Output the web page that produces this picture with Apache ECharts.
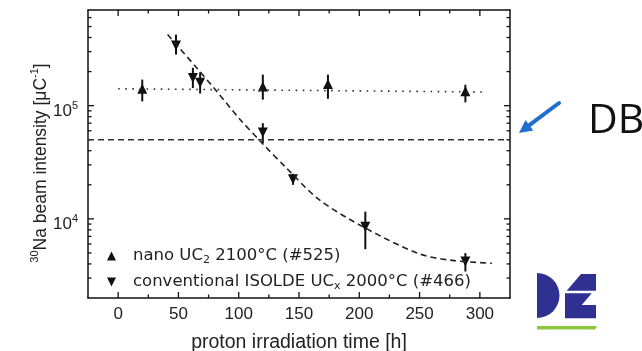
<!DOCTYPE html>
<html><head><meta charset="utf-8">
<script src="https://cdn.jsdelivr.net/npm/echarts@6/dist/echarts.min.js"></script>
<style>html,body{margin:0;padding:0;background:#fff}#c{width:642px;height:351px}</style>
</head><body><div id="c"></div>
<script>
// ---- data ----
const xMin = -25, xMax = 325, yMin = 2000, yMax = 700000;
const nanoName = 'nano UC2 2100°C (#525)';
const convName = 'conventional ISOLDE UCx 2000°C (#466)';
const nanoX  = [20, 120, 174, 288];
const nanoY  = [141000, 148000, 155000, 134000];
const nanoLo = [109000, 113000, 115000, 107000];
const nanoHi = [170000, 188000, 188000, 153000];
const convX  = [48, 62, 68, 120, 145, 205, 288];
const convY  = [340000, 176000, 159000, 58000, 22400, 8500, 4200];
const convLo = [283000, 143000, 128000, 46800, 20000, 5400, 3430];
const convHi = [424000, 216000, 197000, 70000, 25000, 11600, 4980];
const nanoFitX = [0, 305];
const nanoFitY = [141000, 132000];
const convFitX = [41, 64, 80, 100, 120, 139, 167, 205, 250, 277, 310];
const convFitY = [425000, 223000, 141000, 78000, 46000, 28500, 14700, 8300, 4900, 4300, 4050];
const dbLevel = 50000;
const xMajorTicks = [0, 50, 100, 150, 200, 250, 300];
const xMinorTicks = [25, 75, 125, 175, 225, 275];
const yMajorTicks = [10000, 100000];
const yMinorTicks = [3000, 4000, 5000, 6000, 7000, 8000, 9000,
                     20000, 30000, 40000, 50000, 60000, 70000, 80000, 90000,
                     200000, 300000, 400000, 500000, 600000];
const xTickLabels = ['0', '50', '100', '150', '200', '250', '300'];

const legendText = {};
legendText[nanoName] = 'nano UC{sub|2} 2100°C (#525)';
legendText[convName] = 'conventional ISOLDE UC{sub|x} 2000°C (#466)';

const INK = '#111';
const chart = echarts.init(document.getElementById('c'));

function xTickRender(len) {
  return function (params, api) {
    const cs = params.coordSys;
    const px = api.coord([api.value(0), api.value(1)])[0];
    const st = { stroke: INK, lineWidth: 1.3 };
    return { type: 'group', children: [
      { type: 'line', shape: { x1: px, y1: cs.y + cs.height, x2: px, y2: cs.y + cs.height - len }, style: st },
      { type: 'line', shape: { x1: px, y1: cs.y, x2: px, y2: cs.y + len }, style: st }
    ]};
  };
}
function yTickRender(len) {
  return function (params, api) {
    const cs = params.coordSys;
    const py = api.coord([api.value(0), api.value(1)])[1];
    const st = { stroke: INK, lineWidth: 1.3 };
    return { type: 'group', children: [
      { type: 'line', shape: { x1: cs.x, y1: py, x2: cs.x + len, y2: py }, style: st },
      { type: 'line', shape: { x1: cs.x + cs.width, y1: py, x2: cs.x + cs.width - len, y2: py }, style: st }
    ]};
  };
}
function errRender(params, api) {
  const p1 = api.coord([api.value(0), api.value(1)]);
  const p2 = api.coord([api.value(0), api.value(2)]);
  return { type: 'line', shape: { x1: p1[0], y1: p1[1], x2: p2[0], y2: p2[1] },
           style: { stroke: INK, lineWidth: 2 } };
}

const axisFont = 'Liberation Sans, Arial, sans-serif';

chart.setOption({
  animation: false,
  backgroundColor: '#fff',
  grid: { left: 88, right: 132, top: 10, bottom: 53, outerBoundsMode: 'none', containLabel: false },
  legend: {
    orient: 'vertical', left: 102, top: 241, itemGap: 6,
    itemWidth: 9, itemHeight: 9,
    data: [
      { name: nanoName, icon: 'triangle' },
      { name: convName, icon: 'path://M0,0L10,0L5,10Z' }
    ],
    formatter: function (n) { return legendText[n]; },
    itemStyle: { opacity: 1 },
    textStyle: {
      fontFamily: 'DejaVu Sans', fontSize: 16.5, color: '#222', lineHeight: 20,
      padding: [0, 0, 0, 12],
      rich: { sub: { fontFamily: 'DejaVu Sans', fontSize: 11, color: '#222', verticalAlign: 'bottom', lineHeight: 10 } }
    }
  },
  xAxis: [{
    type: 'value', min: xMin, max: xMax, interval: 25, position: 'bottom',
    axisLine: { show: true, onZero: false, lineStyle: { color: INK, width: 1.5 } },
    axisTick: { show: false }, splitLine: { show: false },
    axisLabel: {
      margin: 8, fontFamily: axisFont, fontSize: 17, color: '#222',
      formatter: function (v) { const i = xMajorTicks.indexOf(v); return i >= 0 ? xTickLabels[i] : ''; }
    },
    name: 'proton irradiation time [h]', nameLocation: 'middle', nameGap: 35, nameMoveOverlap: false,
    nameTextStyle: { fontFamily: axisFont, fontSize: 19.5, color: '#222', lineHeight: 20 }
  }, {
    type: 'value', min: xMin, max: xMax, interval: 25, position: 'top',
    axisLine: { show: true, onZero: false, lineStyle: { color: INK, width: 1.5 } },
    axisTick: { show: false }, axisLabel: { show: false }, splitLine: { show: false }
  }],
  yAxis: [{
    type: 'log', logBase: 10, min: yMin, max: yMax, position: 'left',
    axisLine: { show: true, onZero: false, lineStyle: { color: INK, width: 1.5 } },
    axisTick: { show: false }, splitLine: { show: false },
    axisLabel: {
      margin: 10, fontFamily: axisFont, fontSize: 17, color: '#222', lineHeight: 22,
      padding: [11, 0, 0, 0],
      formatter: function (v) {
        const e = Math.round(Math.log10(v));
        return Math.abs(v - Math.pow(10, e)) < 1e-6 * v ? '10{sup|' + e + '}' : '';
      },
      rich: { sup: { fontFamily: axisFont, fontSize: 11, color: '#222', verticalAlign: 'top', lineHeight: 11 } }
    },
    name: '{sup|30}Na beam intensity [μC{sup|-1}]{gap| }', nameLocation: 'middle', nameGap: 35, nameRotate: 90,
    nameMoveOverlap: false,
    nameTextStyle: {
      fontFamily: axisFont, fontSize: 17.5, color: '#222', lineHeight: 24,
      rich: {
        sup: { fontFamily: axisFont, fontSize: 11, color: '#222', verticalAlign: 'top', lineHeight: 11 },
        gap: { width: 18, fontSize: 17.5 }
      }
    }
  }, {
    type: 'log', logBase: 10, min: yMin, max: yMax, position: 'right',
    axisLine: { show: true, onZero: false, lineStyle: { color: INK, width: 1.5 } },
    axisTick: { show: false }, axisLabel: { show: false }, splitLine: { show: false }
  }],
  series: [
    { type: 'line', name: 'DB level', silent: true, showSymbol: false, symbol: 'none',
      data: [[xMin, dbLevel], [xMax, dbLevel]],
      lineStyle: { color: '#333', width: 1.4, type: [6, 4] } },
    { type: 'line', name: 'nano fit', silent: true, showSymbol: false, symbol: 'none',
      data: nanoFitX.map((x, i) => [x, nanoFitY[i]]),
      lineStyle: { color: '#333', width: 1.6, type: [1.6, 5.5] } },
    { type: 'line', name: 'conv fit', silent: true, showSymbol: false, symbol: 'none', smooth: 0.3,
      data: convFitX.map((x, i) => [x, convFitY[i]]),
      lineStyle: { color: '#222', width: 1.6, type: [6, 4] } },
    { type: 'custom', name: 'nano err', silent: true, renderItem: errRender, encode: { x: 0, y: [1, 2] },
      data: nanoX.map((x, i) => [x, nanoLo[i], nanoHi[i]]) },
    { type: 'custom', name: 'conv err', silent: true, renderItem: errRender, encode: { x: 0, y: [1, 2] },
      data: convX.map((x, i) => [x, convLo[i], convHi[i]]) },
    { type: 'scatter', name: nanoName, symbol: 'triangle', symbolSize: 10,
      itemStyle: { color: INK, opacity: 1 }, data: nanoX.map((x, i) => [x, nanoY[i]]) },
    { type: 'scatter', name: convName, symbol: 'triangle', symbolRotate: 180, symbolSize: 10,
      itemStyle: { color: INK, opacity: 1 }, data: convX.map((x, i) => [x, convY[i]]) },
    { type: 'custom', name: 'xMajor', silent: true, renderItem: xTickRender(6), encode: { x: 0, y: 1 },
      data: xMajorTicks.map(v => [v, 10000]) },
    { type: 'custom', name: 'xMinor', silent: true, renderItem: xTickRender(3.5), encode: { x: 0, y: 1 },
      data: xMinorTicks.map(v => [v, 10000]) },
    { type: 'custom', name: 'yMajor', silent: true, renderItem: yTickRender(6), encode: { x: 0, y: 1 },
      data: yMajorTicks.map(v => [0, v]) },
    { type: 'custom', name: 'yMinor', silent: true, renderItem: yTickRender(3.5), encode: { x: 0, y: 1 },
      data: yMinorTicks.map(v => [0, v]) }
  ],
  graphic: [
    { type: 'line', shape: { x1: 559, y1: 103, x2: 529.4, y2: 125.2 },
      style: { stroke: '#1f6fcc', lineWidth: 4, lineCap: 'round' } },
    { type: 'polygon', shape: { points: [[519, 133], [533.3, 130.4], [525.5, 120]] },
      style: { fill: '#1f6fcc' } },
    { type: 'text', x: 588, y: 121,
      style: { text: 'DB', fontFamily: 'Open Sans', fontSize: 41, fill: '#111', verticalAlign: 'middle', align: 'left' } },
    { type: 'sector', shape: { cx: 537, cy: 295.5, r: 22.5, startAngle: -Math.PI / 2, endAngle: Math.PI / 2 },
      style: { fill: '#2e3192' } },
    { type: 'polygon', shape: { points: [[581, 274], [596, 274], [596, 290.7], [566.7, 290.7]] },
      style: { fill: '#2e3192' } },
    { type: 'polygon', shape: { points: [[565, 293.3], [591.7, 293.3], [581.7, 305], [596, 305], [596, 318.3], [565, 318.3]] },
      style: { fill: '#2e3192' } },
    { type: 'polygon', shape: { points: [[537, 326], [597, 326], [595, 329.5], [537, 329.5]] },
      style: { fill: '#8dc63f' } }
  ]
});
</script>
</body></html>
